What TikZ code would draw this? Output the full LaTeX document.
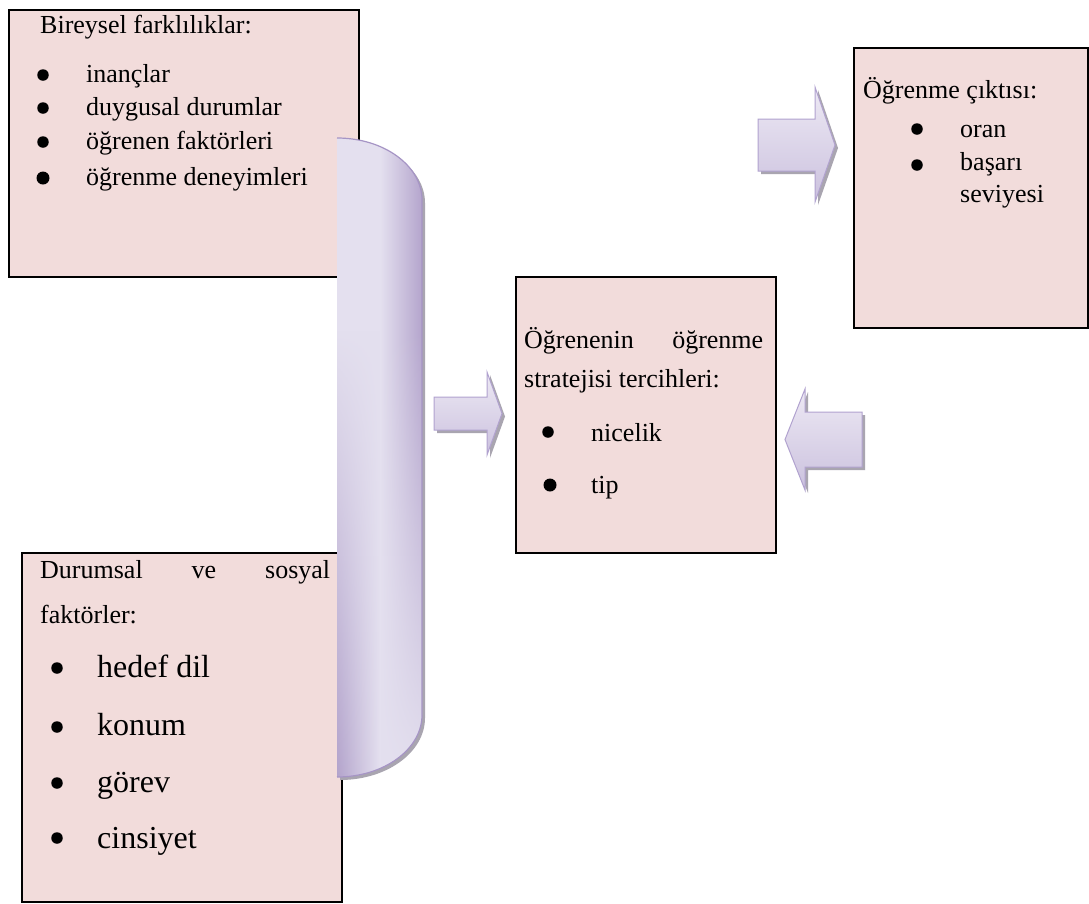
\documentclass[tikz,border=0pt]{standalone}
\usepackage{fontspec}
\setmainfont{Liberation Serif}
\usetikzlibrary{fadings}
\definecolor{boxfill}{HTML}{F2DCDB}
\definecolor{cylL}{HTML}{E4E0EF}
\definecolor{cylD}{HTML}{B2A2CB}
\definecolor{cylLine}{HTML}{A695C5}
\definecolor{shadowc}{HTML}{A9A5B0}
\definecolor{arrL}{HTML}{EDE9F4}
\definecolor{arrD}{HTML}{CBC1DE}
\definecolor{arrLine}{HTML}{B1A2CF}
\tikzfading[name=fadebottom, top color=transparent!100, bottom color=transparent!0]
\tikzset{
  box/.style={draw=black, line width=2pt, fill=boxfill, rectangle, inner sep=0pt, anchor=north west},
  txt/.style={anchor=base west, inner sep=0pt, font=\fontsize{26}{30}\selectfont},
  bigtxt/.style={anchor=base west, inner sep=0pt, font=\fontsize{32}{36}\selectfont},
  bul/.style={circle, fill=black, inner sep=0pt, minimum size=11.5pt},
  arrowshadow/.style={fill=shadowc, draw=none},
  blockarrow/.style={top color=arrL, bottom color=arrD, draw=arrLine, line width=1pt, line join=miter}
}
\begin{document}
\begin{tikzpicture}[x=1pt,y=-1pt]
\useasboundingbox (0,0) rectangle (1089,903);
\fill[white] (0,0) rectangle (1089,903);

% boxes
\node[box, minimum width=350pt, minimum height=267pt] (b1) at (8,9) {};
\node[box, minimum width=260pt, minimum height=276pt] (b2) at (515,276) {};
\node[box, minimum width=234pt, minimum height=280pt] (b3) at (853,47) {};
\node[box, minimum width=320pt, minimum height=349pt] (b4) at (21,552) {};

% box 1 text
\node[txt] (t1) at (40,33) {Bireysel farklılıklar:};
\node[bul] (p11) at (43,75) {};
\node[txt] (t11) at (86,82) {inançlar};
\node[bul] (p12) at (43,108) {};
\node[txt] (t12) at (86,115) {duygusal durumlar};
\node[bul] (p13) at (43,142) {};
\node[txt] (t13) at (86,149) {öğrenen faktörleri};
\node[bul, minimum size=13pt] (p14) at (43,178) {};
\node[txt] (t14) at (86,185) {öğrenme deneyimleri};

% box 2 text
\node[txt] (t2a) at (524,348) {\makebox[239pt]{Öğrenenin\hfill öğrenme}};
\node[txt] (t2b) at (524,387) {stratejisi tercihleri:};
\node[bul] (p21) at (548,432) {};
\node[txt] (t21) at (591,441) {nicelik};
\node[bul, minimum size=13pt] (p22) at (550,485) {};
\node[txt] (t22) at (591,493) {tip};

% box 3 text
\node[txt] (t3) at (863,98) {Öğrenme çıktısı:};
\node[bul] (p31) at (917,129) {};
\node[txt] (t31) at (960,137) {oran};
\node[bul] (p32) at (917,165) {};
\node[txt] (t32) at (960,170) {başarı};
\node[txt] (t33) at (960,202) {seviyesi};

% box 4 text
\node[txt] (t4a) at (40,578) {\makebox[290pt]{Durumsal\hfill ve\hfill sosyal}};
\node[txt] (t4b) at (40,623) {faktörler:};
\node[bul] (p41) at (57,668) {};
\node[bigtxt] (t41) at (97,677) {hedef dil};
\node[bul] (p42) at (57,727) {};
\node[bigtxt] (t42) at (97,735) {konum};
\node[bul] (p43) at (57,783) {};
\node[bigtxt] (t43) at (97,792) {görev};
\node[bul] (p44) at (57,838) {};
\node[bigtxt] (t44) at (97,848) {cinsiyet};

% curved bar (drawn over boxes 1 and 4)
\fill[shadowc, shift={(3,3)}] (337,138) .. controls (384,138) and (422,165.8) .. (422,200)
  -- (422,715) .. controls (422,749.2) and (384,777) .. (337,777) -- cycle;
\begin{scope}
  \clip (337,138) .. controls (384,138) and (422,165.8) .. (422,200)
    -- (422,715) .. controls (422,749.2) and (384,777) .. (337,777) -- cycle;
  \shade[left color=cylL, right color=cylD, middle color=cylL] (336,130) rectangle (424,780);
  \shade[left color=cylD, right color=cylL, middle color=cylL, path fading=fadebottom] (336,330) rectangle (424,780);
\end{scope}
\draw[cylLine, line width=1.2pt] (337,138) .. controls (384,138) and (422,165.8) .. (422,200)
  -- (422,715) .. controls (422,749.2) and (384,777) .. (337,777);

% block arrows
\fill[arrowshadow, shift={(3,3)}] (434,397) -- (487,397) -- (487,372) -- (502,413.5) -- (487,455) -- (487,430) -- (434,430) -- cycle;
\path[blockarrow] (434,397) -- (487,397) -- (487,372) -- (502,413.5) -- (487,455) -- (487,430) -- (434,430) -- cycle;

\fill[arrowshadow, shift={(3,3)}] (758,119) -- (815,119) -- (815,87) -- (835,145) -- (815,202) -- (815,171) -- (758,171) -- cycle;
\path[blockarrow] (758,119) -- (815,119) -- (815,87) -- (835,145) -- (815,202) -- (815,171) -- (758,171) -- cycle;

\fill[arrowshadow, shift={(3,3)}] (862,412) -- (805,412) -- (805,389) -- (785,439.5) -- (805,490) -- (805,467) -- (862,467) -- cycle;
\path[blockarrow] (862,412) -- (805,412) -- (805,389) -- (785,439.5) -- (805,490) -- (805,467) -- (862,467) -- cycle;
\end{tikzpicture}
\end{document}
